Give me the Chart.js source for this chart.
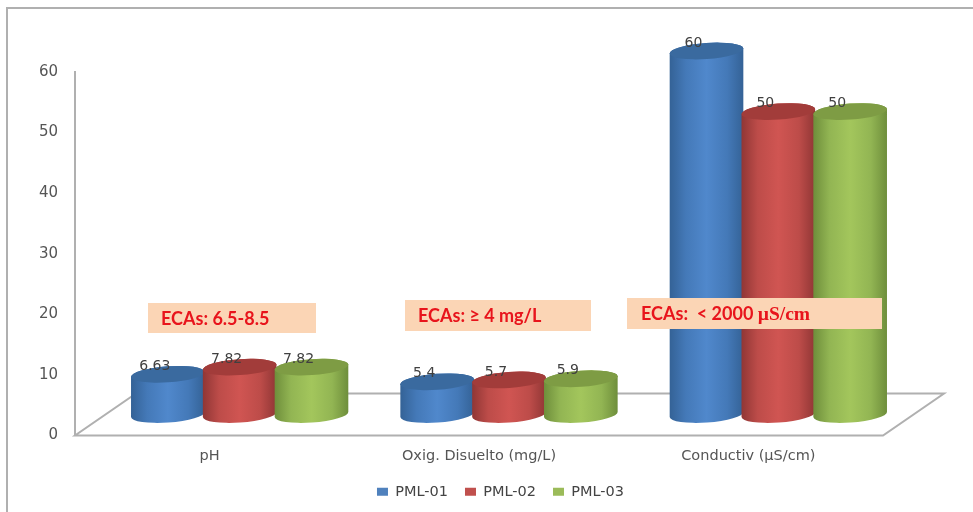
<!DOCTYPE html>
<html lang="es">
<head>
<meta charset="UTF-8">
<title>Parámetros PML</title>
<script src="https://cdn.jsdelivr.net/npm/chart.js"></script>
<style>
    html, body { margin: 0; padding: 0; background: #fff; }
    canvas { display: block; }
</style>
</head>
<body>
<canvas id="grafico" width="973" height="512"></canvas>
<script>
    const categorias = ['pH', 'Oxig. Disuelto (mg/L)', 'Conductiv (µS/cm)'];
    const pml01 = [6.63, 5.4, 60];
    const pml02 = [7.82, 5.7, 50];
    const pml03 = [7.82, 5.9, 50];
    const nombres = ['PML-01', 'PML-02', 'PML-03'];
    const ticksY = [0, 10, 20, 30, 40, 50, 60];

    // notas de ECA
    const notasEca = ['ECAs: 6.5-8.5', 'ECAs: ≥ 4 mg/L', 'ECAs:  < 2000 '];
    const unidadEca = ['', '', 'µS/cm'];

    const colores = ['#4f81bd', '#c0504d', '#9bbb59'];
    const sombras = [
        { borde: '#346296', medio: '#4479b8', luz: '#5088cc', tapa: '#3a6a9f' },
        { borde: '#903635', medio: '#bd4c49', luz: '#d05552', tapa: '#a23c3a' },
        { borde: '#6e8e3b', medio: '#92b553', luz: '#a3c65c', tapa: '#7e9c44' }
    ];

    const FUENTE = '"DejaVu Sans", sans-serif';
    const FONDO_X = 30, FONDO_Y = -21;   // desplazamiento de las barras hacia el fondo
    const RY = 8, GIRO = -0.07;

    function cilindro(ctx, cx, yTop, yBase, ancho, s) {
        const rx = ancho / 2;
        const g = ctx.createLinearGradient(cx - rx, 0, cx + rx, 0);
        g.addColorStop(0, s.borde);
        g.addColorStop(0.22, s.medio);
        g.addColorStop(0.5, s.luz);
        g.addColorStop(0.78, s.medio);
        g.addColorStop(1, s.borde);

        ctx.beginPath();
        ctx.ellipse(cx, yBase, rx, RY, GIRO, 0, Math.PI);
        ctx.ellipse(cx, yTop, rx, RY, GIRO, Math.PI, 0);
        ctx.closePath();
        ctx.fillStyle = g;
        ctx.fill();

        ctx.beginPath();
        ctx.ellipse(cx, yTop, rx, RY, GIRO, 0, Math.PI * 2);
        ctx.fillStyle = s.tapa;
        ctx.fill();
    }

    const marco = {
        id: 'marco',
        beforeDraw(chart) {
            const ctx = chart.ctx;
            ctx.save();
            ctx.strokeStyle = '#b0b0b0';
            ctx.lineWidth = 2;
            ctx.beginPath();
            ctx.moveTo(7, 512);
            ctx.lineTo(7, 8);
            ctx.lineTo(973, 8);
            ctx.stroke();
            ctx.restore();
        }
    };

    const barras3d = {
        id: 'barras3d',
        afterLayout(chart) {
            // la leyenda va centrada bajo el grupo de barras
            chart.legend.left += 59;
            chart.legend.right += 59;
            chart.legend.top -= 3;
            chart.legend.bottom -= 3;
        },
        beforeDatasetsDraw(chart) {
            const ctx = chart.ctx;
            const area = chart.chartArea;
            ctx.save();

            // piso
            ctx.strokeStyle = '#b0b0b0';
            ctx.lineWidth = 2;
            ctx.beginPath();
            ctx.moveTo(area.left, area.bottom);
            ctx.lineTo(area.right, area.bottom);
            ctx.lineTo(area.right + 61, area.bottom + 2 * FONDO_Y);
            ctx.lineTo(area.left + 61, area.bottom + 2 * FONDO_Y);
            ctx.closePath();
            ctx.stroke();

            chart.data.datasets.forEach((ds, i) => {
                chart.getDatasetMeta(i).data.forEach(el => {
                    cilindro(ctx, el.x + FONDO_X, el.y + FONDO_Y, el.base + FONDO_Y, el.width + 2, sombras[i]);
                });
            });

            // valores sobre cada barra
            ctx.font = '14px ' + FUENTE;
            ctx.fillStyle = '#404040';
            ctx.textAlign = 'center';
            ctx.textBaseline = 'middle';
            chart.data.datasets.forEach((ds, i) => {
                chart.getDatasetMeta(i).data.forEach((el, j) => {
                    ctx.fillText(String(ds.data[j]), el.x + FONDO_X - 13, el.y + FONDO_Y - 8);
                });
            });

            // recuadros ECA
            const cajas = [[148, 303, 168, 30, 161], [405, 300, 186, 31, 418], [627, 298, 255, 31, 641]];
            cajas.forEach((c, i) => {
                ctx.fillStyle = '#fbd5b5';
                ctx.fillRect(c[0], c[1], c[2], c[3]);
                ctx.fillStyle = '#e8141c';
                ctx.textAlign = 'left';
                ctx.font = 'bold 18px Lato, sans-serif';
                ctx.fillText(notasEca[i], c[4], c[1] + c[3] / 2 + 1);
                if (unidadEca[i]) {
                    const w = ctx.measureText(notasEca[i]).width;
                    ctx.font = 'bold 19.5px "Liberation Serif", serif';
                    ctx.fillText(unidadEca[i], c[4] + w, c[1] + c[3] / 2 + 1);
                }
            });

            ctx.restore();
            return false;
        }
    };

    new Chart(document.getElementById('grafico'), {
        type: 'bar',
        data: {
            labels: categorias,
            datasets: [
                { label: nombres[0], data: pml01, backgroundColor: colores[0] },
                { label: nombres[1], data: pml02, backgroundColor: colores[1] },
                { label: nombres[2], data: pml03, backgroundColor: colores[2] }
            ]
        },
        options: {
            responsive: false,
            animation: false,
            barPercentage: 1,
            categoryPercentage: 0.8,
            layout: { padding: { left: 0, right: 90, top: 72, bottom: 0 } },
            scales: {
                x: {
                    grid: { display: false },
                    border: { display: false },
                    ticks: { color: '#555', font: { family: FUENTE, size: 14.5 }, padding: 4 },
                    afterFit(axis) { axis.height = 35; }
                },
                y: {
                    min: 0,
                    max: 60,
                    grid: { display: false },
                    border: { display: true, color: '#b0b0b0', width: 2 },
                    afterFit(axis) { axis.width = 75; },
                    afterBuildTicks(axis) { axis.ticks = ticksY.map(v => ({ value: v })); },
                    ticks: { color: '#555', font: { family: FUENTE, size: 15 }, padding: 9 }
                }
            },
            plugins: {
                legend: {
                    position: 'bottom',
                    labels: { boxWidth: 11, boxHeight: 8, padding: 17, color: '#444', font: { family: FUENTE, size: 14.5 } }
                },
                tooltip: { enabled: false }
            }
        },
        plugins: [marco, barras3d]
    });
</script>
</body>
</html>
